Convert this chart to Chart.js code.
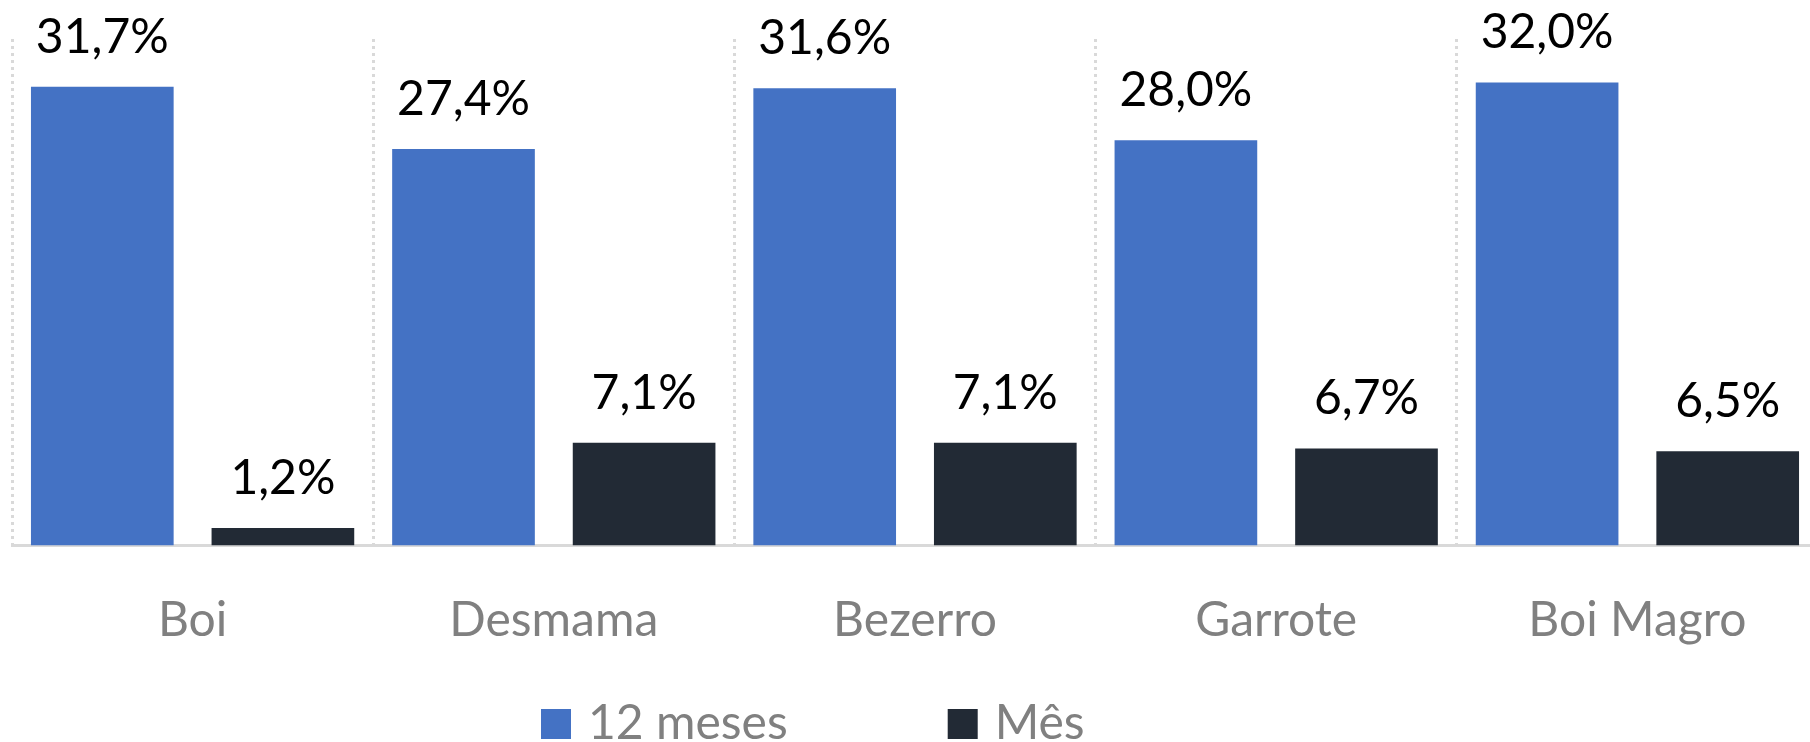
<!DOCTYPE html>
<html>
<head>
<meta charset="utf-8">
<script src="https://cdn.jsdelivr.net/npm/chart.js@4.4.1/dist/chart.umd.min.js"></script>
<style>
  html, body { margin: 0; padding: 0; background: #ffffff; overflow: hidden; }
  #wrap { position: absolute; left: 0; top: 0; width: 1830px; height: 742px; }
</style>
</head>
<body>
<div id="wrap"><canvas id="c"></canvas></div>
<script>
const categories = ['Boi', 'Desmama', 'Bezerro', 'Garrote', 'Boi Magro'];
const seriesNames = ['12 meses', 'Mês'];
const valores12Meses = [31.7, 27.4, 31.6, 28.0, 32.0];
const valoresMes = [1.2, 7.1, 7.1, 6.7, 6.5];

const FONT = 'Lato, "Open Sans", sans-serif';

const fmt = v => v.toFixed(1).replace('.', ',') + '%';

const labelPlugin = {
  id: 'barLabels',
  afterDatasetsDraw(chart) {
    const ctx = chart.ctx;
    ctx.save();
    ctx.font = '48px ' + FONT;
    ctx.fillStyle = '#000000';
    ctx.textAlign = 'center';
    ctx.textBaseline = 'alphabetic';
    chart.data.datasets.forEach((ds, di) => {
      const meta = chart.getDatasetMeta(di);
      meta.data.forEach((bar, i) => {
        ctx.fillText(fmt(ds.data[i]), bar.x, bar.y - 34);
      });
    });
    ctx.restore();
  }
};

const legendPlugin = {
  id: 'customLegend',
  afterDraw(chart) {
    const ctx = chart.ctx;
    ctx.save();
    ctx.font = '48px ' + FONT;
    ctx.textAlign = 'left';
    ctx.textBaseline = 'alphabetic';
    let x = 541;
    const boxTop = 709, box = 30, baseline = 739;
    chart.data.datasets.forEach(ds => {
      ctx.fillStyle = ds.backgroundColor;
      ctx.fillRect(x, boxTop, box, box);
      ctx.fillStyle = '#808080';
      ctx.fillText(ds.label, x + box + 17, baseline);
      x += box + 17 + ctx.measureText(ds.label).width + 160;
    });
    ctx.restore();
  }
};

new Chart(document.getElementById('c'), {
  type: 'bar',
  data: {
    labels: categories,
    datasets: [
      { label: seriesNames[0], data: valores12Meses, backgroundColor: '#4472C4', categoryPercentage: 1.0, barPercentage: 0.79 },
      { label: seriesNames[1], data: valoresMes, backgroundColor: '#222A35', categoryPercentage: 1.0, barPercentage: 0.79 }
    ]
  },
  options: {
    responsive: true,
    maintainAspectRatio: false,
    animation: false,
    layout: { padding: { left: 12, right: 12, top: 39, bottom: 47 } },
    plugins: {
      legend: { display: false },
      tooltip: { enabled: false }
    },
    scales: {
      x: {
        grid: { display: true, offset: true, color: '#d9d9d9', lineWidth: 3, drawTicks: false },
        border: { display: true, color: '#d9d9d9', width: 3, dash: [3, 4] },
        ticks: { color: '#808080', font: { family: FONT, size: 48 }, padding: 46 }
      },
      y: {
        display: false,
        min: 0,
        max: 35
      }
    }
  },
  plugins: [labelPlugin, legendPlugin]
});
</script>
</body>
</html>
